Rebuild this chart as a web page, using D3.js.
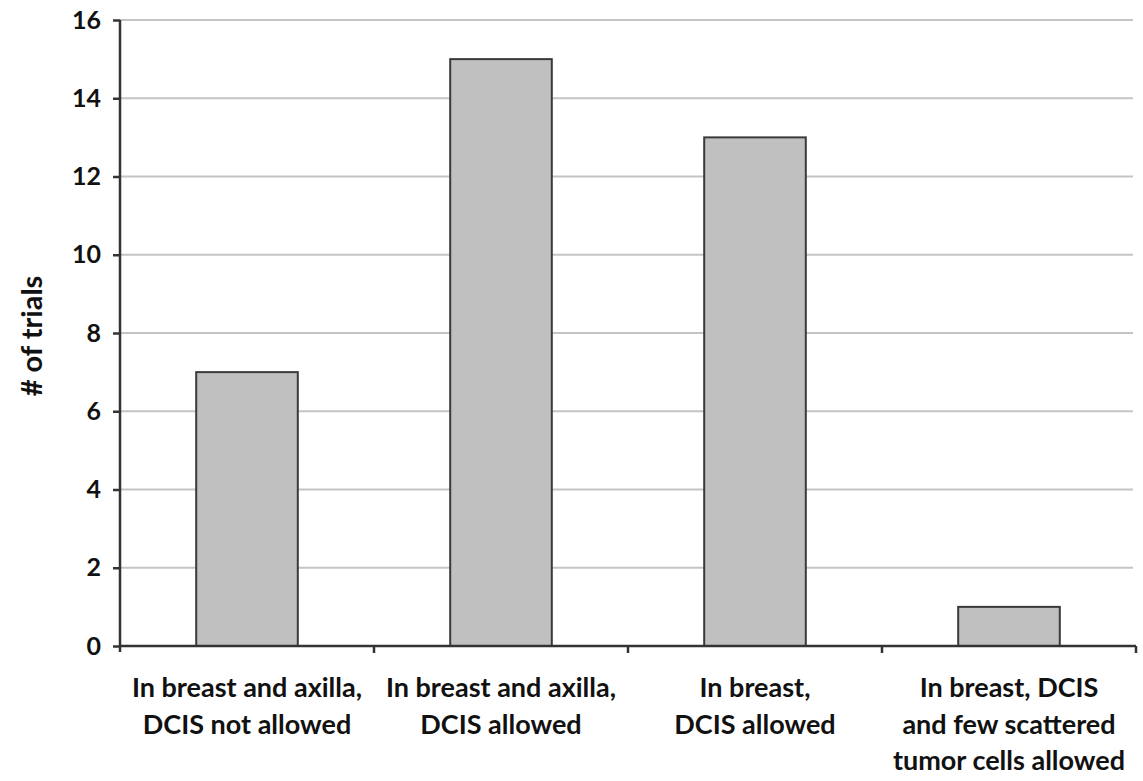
<!DOCTYPE html>
<html>
<head>
<meta charset="utf-8">
<script src="https://cdn.jsdelivr.net/npm/d3@7"></script>
<style>
  html, body { margin: 0; padding: 0; background: #fff; }
  svg { display: block; }
  text { font-family: Lato, "Open Sans", sans-serif; font-weight: bold; fill: #111; }
</style>
</head>
<body>
<svg id="chart" width="1143" height="781"></svg>
<script>
// Trial counts by allowed residual disease definition
const categories = [
  ["In breast and axilla,", "DCIS not allowed"],
  ["In breast and axilla,", "DCIS allowed"],
  ["In breast,", "DCIS allowed"],
  ["In breast, DCIS", "and few scattered", "tumor cells allowed"]
];
const trialCounts = [7, 15, 13, 1];
const yTicks = [0, 2, 4, 6, 8, 10, 12, 14, 16];
const yTitle = "# of trials";

const svg = d3.select("#chart");
const plotLeft = 120, plotRight = 1136, plotTop = 20, plotBottom = 646;

const x = d3.scaleBand()
  .domain(d3.range(categories.length))
  .range([plotLeft, plotRight])
  .paddingInner(0.6)
  .paddingOuter(0.3);

const y = d3.scaleLinear().domain([0, 16]).range([plotBottom, plotTop]);

// horizontal gridlines
svg.append("g")
  .selectAll("line")
  .data(yTicks.filter(d => d > 0))
  .join("line")
  .attr("x1", plotLeft).attr("x2", plotRight - 3)
  .attr("y1", d => y(d)).attr("y2", d => y(d))
  .attr("stroke", "#c4c4c4")
  .attr("stroke-width", 2);

// bars
svg.append("g")
  .selectAll("rect")
  .data(trialCounts)
  .join("rect")
  .attr("x", (d, i) => x(i))
  .attr("y", d => y(d))
  .attr("width", x.bandwidth())
  .attr("height", d => y(0) - y(d))
  .attr("fill", "#c0c0c0")
  .attr("stroke", "#3a3a3a")
  .attr("stroke-width", 2);

// y axis
const yAxis = d3.axisLeft(y).tickValues(yTicks).tickSize(7).tickPadding(12);
const gy = svg.append("g").attr("transform", `translate(${plotLeft},0)`).call(yAxis);
gy.select(".domain").attr("stroke", "#333").attr("stroke-width", 2.5)
  .attr("d", `M0,${plotTop}V${plotBottom + 6}`);
gy.selectAll(".tick line").attr("stroke", "#333").attr("stroke-width", 2.5);
gy.selectAll(".tick text")
  .attr("font-size", 25)
  .attr("font-family", "Lato, sans-serif")
  .attr("font-weight", "bold")
  .attr("fill", "#111");

// x axis baseline with category boundary ticks
const gx = svg.append("g");
gx.append("line")
  .attr("x1", plotLeft).attr("x2", plotRight)
  .attr("y1", y(0)).attr("y2", y(0))
  .attr("stroke", "#333").attr("stroke-width", 2.5);
const step = x.step();
const boundaries = d3.range(1, categories.length + 1).map(i => x(0) - x.paddingOuter() * step + i * step);
gx.selectAll("line.tick")
  .data(boundaries)
  .join("line")
  .attr("class", "tick")
  .attr("x1", d => d).attr("x2", d => d)
  .attr("y1", y(0)).attr("y2", y(0) + 7)
  .attr("stroke", "#333").attr("stroke-width", 2.5);

// category labels
const labels = svg.append("g")
  .selectAll("text")
  .data(categories)
  .join("text")
  .attr("text-anchor", "middle")
  .attr("font-size", 27);
labels.selectAll("tspan")
  .data((d, i) => d.map(line => ({ line, i })))
  .join("tspan")
  .attr("x", d => x(d.i) + x.bandwidth() / 2)
  .attr("y", (d, j) => 697 + j * 36.5)
  .text(d => d.line);

// y axis title
svg.append("text")
  .attr("transform", `translate(42,336) rotate(-90)`)
  .attr("text-anchor", "middle")
  .attr("font-size", 29)
  .text(yTitle);
</script>
</body>
</html>
